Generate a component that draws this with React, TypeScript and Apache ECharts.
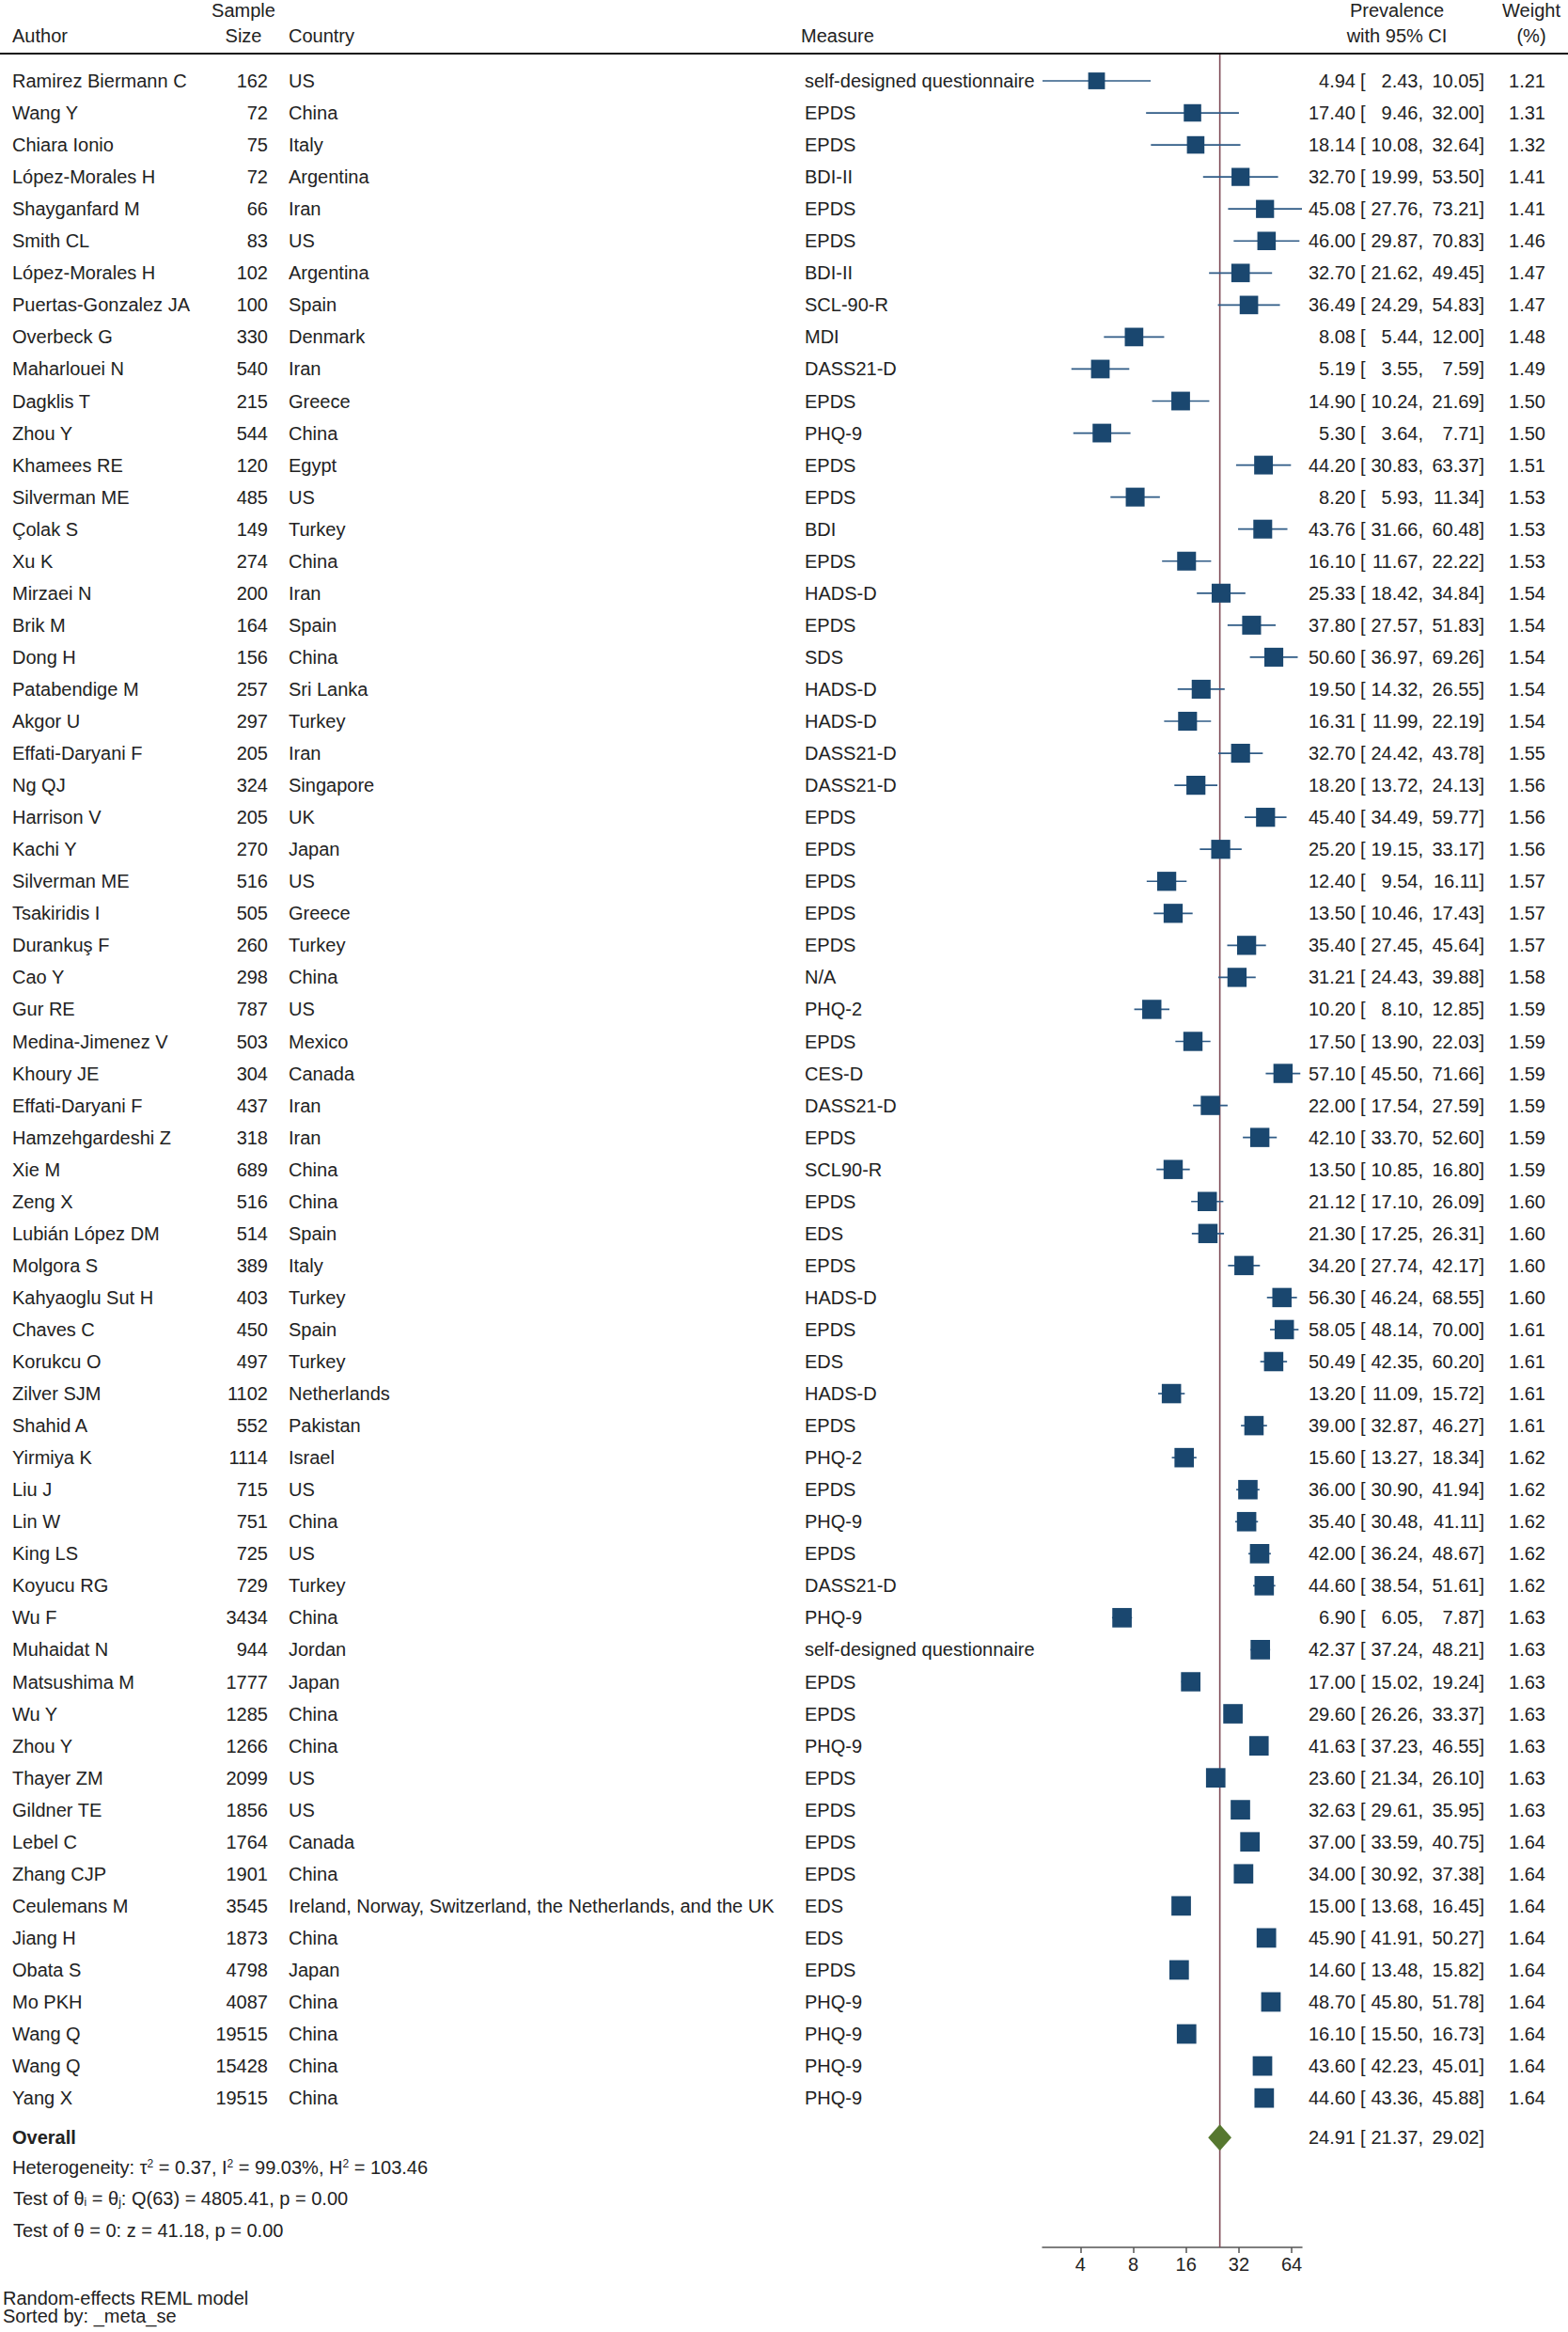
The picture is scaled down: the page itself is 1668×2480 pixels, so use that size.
import React, { useEffect, useRef } from "react";
import * as echarts from "echarts";

// ---------------- data ----------------
const authors = [
  "Ramirez Biermann C", "Wang Y", "Chiara Ionio", "López-Morales H", "Shayganfard M", "Smith CL",
  "López-Morales H", "Puertas-Gonzalez JA", "Overbeck G", "Maharlouei N", "Dagklis T", "Zhou Y",
  "Khamees RE", "Silverman ME", "Çolak S", "Xu K", "Mirzaei N", "Brik M", "Dong H", "Patabendige M",
  "Akgor U", "Effati-Daryani F", "Ng QJ", "Harrison V", "Kachi Y", "Silverman ME", "Tsakiridis I",
  "Durankuş F", "Cao Y", "Gur RE", "Medina-Jimenez V", "Khoury JE", "Effati-Daryani F",
  "Hamzehgardeshi Z", "Xie M", "Zeng X", "Lubián López DM", "Molgora S", "Kahyaoglu Sut H",
  "Chaves C", "Korukcu O", "Zilver SJM", "Shahid A", "Yirmiya K", "Liu J", "Lin W", "King LS",
  "Koyucu RG", "Wu F", "Muhaidat N", "Matsushima M", "Wu Y", "Zhou Y", "Thayer ZM", "Gildner TE",
  "Lebel C", "Zhang CJP", "Ceulemans M", "Jiang H", "Obata S", "Mo PKH", "Wang Q", "Wang Q", "Yang X",
];

const sampleSizes = [
  162, 72, 75, 72, 66, 83, 102, 100, 330, 540, 215, 544, 120, 485, 149, 274, 200, 164, 156, 257,
  297, 205, 324, 205, 270, 516, 505, 260, 298, 787, 503, 304, 437, 318, 689, 516, 514, 389, 403,
  450, 497, 1102, 552, 1114, 715, 751, 725, 729, 3434, 944, 1777, 1285, 1266, 2099, 1856, 1764,
  1901, 3545, 1873, 4798, 4087, 19515, 15428, 19515,
];

const countries = [
  "US", "China", "Italy", "Argentina", "Iran", "US", "Argentina", "Spain", "Denmark", "Iran",
  "Greece", "China", "Egypt", "US", "Turkey", "China", "Iran", "Spain", "China", "Sri Lanka",
  "Turkey", "Iran", "Singapore", "UK", "Japan", "US", "Greece", "Turkey", "China", "US", "Mexico",
  "Canada", "Iran", "Iran", "China", "China", "Spain", "Italy", "Turkey", "Spain", "Turkey",
  "Netherlands", "Pakistan", "Israel", "US", "China", "US", "Turkey", "China", "Jordan", "Japan",
  "China", "China", "US", "US", "Canada", "China",
  "Ireland, Norway, Switzerland, the Netherlands, and the UK",
  "China", "Japan", "China", "China", "China", "China",
];

const measures = [
  "self-designed questionnaire", "EPDS", "EPDS", "BDI-II", "EPDS", "EPDS", "BDI-II", "SCL-90-R",
  "MDI", "DASS21-D", "EPDS", "PHQ-9", "EPDS", "EPDS", "BDI", "EPDS", "HADS-D", "EPDS", "SDS",
  "HADS-D", "HADS-D", "DASS21-D", "DASS21-D", "EPDS", "EPDS", "EPDS", "EPDS", "EPDS", "N/A",
  "PHQ-2", "EPDS", "CES-D", "DASS21-D", "EPDS", "SCL90-R", "EPDS", "EDS", "EPDS", "HADS-D", "EPDS",
  "EDS", "HADS-D", "EPDS", "PHQ-2", "EPDS", "PHQ-9", "EPDS", "DASS21-D", "PHQ-9",
  "self-designed questionnaire", "EPDS", "EPDS", "PHQ-9", "EPDS", "EPDS", "EPDS", "EPDS", "EDS",
  "EDS", "EPDS", "PHQ-9", "PHQ-9", "PHQ-9", "PHQ-9",
];

const prevalence = [
  4.94, 17.4, 18.14, 32.7, 45.08, 46.0, 32.7, 36.49, 8.08, 5.19, 14.9, 5.3, 44.2, 8.2, 43.76, 16.1,
  25.33, 37.8, 50.6, 19.5, 16.31, 32.7, 18.2, 45.4, 25.2, 12.4, 13.5, 35.4, 31.21, 10.2, 17.5, 57.1,
  22.0, 42.1, 13.5, 21.12, 21.3, 34.2, 56.3, 58.05, 50.49, 13.2, 39.0, 15.6, 36.0, 35.4, 42.0, 44.6,
  6.9, 42.37, 17.0, 29.6, 41.63, 23.6, 32.63, 37.0, 34.0, 15.0, 45.9, 14.6, 48.7, 16.1, 43.6, 44.6,
];

const ciLower = [
  2.43, 9.46, 10.08, 19.99, 27.76, 29.87, 21.62, 24.29, 5.44, 3.55, 10.24, 3.64, 30.83, 5.93, 31.66,
  11.67, 18.42, 27.57, 36.97, 14.32, 11.99, 24.42, 13.72, 34.49, 19.15, 9.54, 10.46, 27.45, 24.43,
  8.1, 13.9, 45.5, 17.54, 33.7, 10.85, 17.1, 17.25, 27.74, 46.24, 48.14, 42.35, 11.09, 32.87, 13.27,
  30.9, 30.48, 36.24, 38.54, 6.05, 37.24, 15.02, 26.26, 37.23, 21.34, 29.61, 33.59, 30.92, 13.68,
  41.91, 13.48, 45.8, 15.5, 42.23, 43.36,
];

const ciUpper = [
  10.05, 32.0, 32.64, 53.5, 73.21, 70.83, 49.45, 54.83, 12.0, 7.59, 21.69, 7.71, 63.37, 11.34, 60.48,
  22.22, 34.84, 51.83, 69.26, 26.55, 22.19, 43.78, 24.13, 59.77, 33.17, 16.11, 17.43, 45.64, 39.88,
  12.85, 22.03, 71.66, 27.59, 52.6, 16.8, 26.09, 26.31, 42.17, 68.55, 70.0, 60.2, 15.72, 46.27, 18.34,
  41.94, 41.11, 48.67, 51.61, 7.87, 48.21, 19.24, 33.37, 46.55, 26.1, 35.95, 40.75, 37.38, 16.45,
  50.27, 15.82, 51.78, 16.73, 45.01, 45.88,
];

const weights = [
  1.21, 1.31, 1.32, 1.41, 1.41, 1.46, 1.47, 1.47, 1.48, 1.49, 1.5, 1.5, 1.51, 1.53, 1.53, 1.53, 1.54,
  1.54, 1.54, 1.54, 1.54, 1.55, 1.56, 1.56, 1.56, 1.57, 1.57, 1.57, 1.58, 1.59, 1.59, 1.59, 1.59,
  1.59, 1.59, 1.6, 1.6, 1.6, 1.6, 1.61, 1.61, 1.61, 1.61, 1.62, 1.62, 1.62, 1.62, 1.62, 1.63, 1.63,
  1.63, 1.63, 1.63, 1.63, 1.63, 1.64, 1.64, 1.64, 1.64, 1.64, 1.64, 1.64, 1.64, 1.64,
];

// overall estimate, lower, upper
const overallEstimate = [24.91, 21.37, 29.02];
const xTickValues = [4, 8, 16, 32, 64];
const xRange = [2.43, 73.21];

const heterogeneityText = "Heterogeneity: τ{sup|2} = 0.37, I{sup|2} = 99.03%, H{sup|2} = 103.46";
const testHomogeneityText = "Test of θ{sub|i} = θ{sub|j}: Q(63) = 4805.41, p = 0.00";
const testZeroText = "Test of θ = 0: z = 41.18, p = 0.00";
const footnotes = ["Random-effects REML model", "Sorted by: _meta_se"];

// ---------------- styling / layout ----------------
const FF = "'Liberation Sans', Arial, Helvetica, sans-serif";
const FS = 20;
const TC = "#222222";
const SQ = "#1a476f";
const CI = "#2f5b86";
const DIA = "#56782f";
const REF = "#7f4b57";

const AUTHOR_X = 13;
const SIZE_RX = 285;
const SIZE_CX = 259;
const COUNTRY_X = 307;
const MEASURE_X = 856;
const EST_RX = 1442;
const BRACKET_X = 1447;
const LO_RX = 1514;
const HI_RX = 1579;
const PREV_CX = 1486;
const WEIGHT_RX = 1644;
const WEIGHT_CX = 1629;

const ROW_H = 34.05;
const GRID_TOP = 86 - ROW_H;
const OVERALL_ROW = 65.24;
const Y_MAX = (2390 - GRID_TOP) / ROW_H;

function txt(x: number, y: number, text: string, align: string = "left", extra: any = {}) {
  return {
    type: "text",
    x,
    y,
    style: {
      text,
      fontSize: FS,
      fontFamily: FF,
      fill: TC,
      align,
      verticalAlign: "middle",
      textAlign: align,
      textVerticalAlign: "middle",
      ...extra,
    },
  };
}

function buildOption() {
  const rowsData = authors.map((_, i) => [i + 1, prevalence[i], ciLower[i], ciUpper[i], weights[i]]);

  const studiesRender = (params: any, api: any) => {
    const r = api.value(0);
    const est = api.value(1);
    const lo = api.value(2);
    const hi = api.value(3);
    const w = api.value(4);
    const pl = api.coord([lo, r]);
    const ph = api.coord([hi, r]);
    const pe = api.coord([est, r]);
    const side = 16.2 * Math.sqrt(w);
    return {
      type: "group",
      children: [
        {
          type: "line",
          shape: { x1: pl[0], y1: pl[1], x2: ph[0], y2: ph[1] },
          style: { stroke: CI, lineWidth: 1.7 },
        },
        {
          type: "rect",
          shape: { x: pe[0] - side / 2, y: pe[1] - side / 2, width: side, height: side },
          style: { fill: SQ },
        },
      ],
    };
  };

  const diamondRender = (params: any, api: any) => {
    const r = api.value(0);
    const c = api.coord([api.value(1), r]);
    const l = api.coord([api.value(2), r]);
    const h = api.coord([api.value(3), r]);
    return {
      type: "polygon",
      shape: {
        points: [
          [l[0], c[1]],
          [c[0], c[1] - 14],
          [h[0], c[1]],
          [c[0], c[1] + 14],
        ],
      },
      style: { fill: DIA },
    };
  };

  const tableRender = (params: any, api: any) => {
    const i = params.dataIndex;
    const y = api.coord([10, api.value(0)])[1];
    return {
      type: "group",
      children: [
        txt(AUTHOR_X, y, authors[i]),
        txt(SIZE_RX, y, String(sampleSizes[i]), "right"),
        txt(COUNTRY_X, y, countries[i]),
        txt(MEASURE_X, y, measures[i]),
        txt(EST_RX, y, prevalence[i].toFixed(2), "right"),
        txt(BRACKET_X, y, "["),
        txt(LO_RX, y, ciLower[i].toFixed(2) + ",", "right"),
        txt(HI_RX, y, ciUpper[i].toFixed(2) + "]", "right"),
        txt(WEIGHT_RX, y, weights[i].toFixed(2), "right"),
      ],
    };
  };

  const overallTextRender = (params: any, api: any) => {
    const y = api.coord([10, api.value(0)])[1];
    return {
      type: "group",
      children: [
        txt(AUTHOR_X, y, "Overall", "left", { fontWeight: "bold" }),
        txt(EST_RX, y, overallEstimate[0].toFixed(2), "right"),
        txt(BRACKET_X, y, "["),
        txt(LO_RX, y, overallEstimate[1].toFixed(2) + ",", "right"),
        txt(HI_RX, y, overallEstimate[2].toFixed(2) + "]", "right"),
      ],
    };
  };

  const supSub = {
    sup: { fontSize: 12, fontFamily: FF, fill: TC, verticalAlign: "top" },
    sub: { fontSize: 12, fontFamily: FF, fill: TC, verticalAlign: "bottom" },
  };

  const graphic = [
    txt(SIZE_CX, 11, "Sample", "center"),
    txt(AUTHOR_X, 38, "Author"),
    txt(SIZE_CX, 38, "Size", "center"),
    txt(COUNTRY_X, 38, "Country"),
    txt(852, 38, "Measure"),
    txt(PREV_CX, 11, "Prevalence", "center"),
    txt(PREV_CX, 38, "with 95% CI", "center"),
    txt(WEIGHT_CX, 11, "Weight", "center"),
    txt(WEIGHT_CX, 38, "(%)", "center"),
    {
      type: "line",
      shape: { x1: 0, y1: 57, x2: 1668, y2: 57 },
      style: { stroke: "#111111", lineWidth: 2 },
    },
    txt(AUTHOR_X, 2305, heterogeneityText, "left", { rich: supSub }),
    txt(14, 2338, testHomogeneityText, "left", { rich: supSub }),
    txt(14, 2372, testZeroText),
    txt(3, 2444, footnotes[0]),
    txt(3, 2463, footnotes[1]),
  ];

  return {
    animation: false,
    grid: {
      left: 1109,
      top: GRID_TOP,
      width: 276,
      height: Y_MAX * ROW_H,
      containLabel: false,
      outerBoundsMode: "none",
    },
    xAxis: {
      type: "log",
      logBase: 2,
      min: xRange[0],
      max: xRange[1],
      position: "bottom",
      axisLine: { show: true, onZero: false, lineStyle: { color: "#555555", width: 1.5 } },
      axisTick: {
        show: true,
        customValues: xTickValues,
        length: 6,
        lineStyle: { color: "#555555", width: 1.5 },
      },
      axisLabel: {
        customValues: xTickValues,
        fontSize: FS,
        fontFamily: FF,
        color: TC,
        margin: 8,
        formatter: (v: number) => String(Math.round(v)),
      },
      splitLine: { show: false },
      minorTick: { show: false },
    },
    yAxis: {
      type: "value",
      min: 0,
      max: Y_MAX,
      inverse: true,
      show: false,
      splitLine: { show: false },
    },
    series: [
      {
        type: "line",
        name: "reference",
        data: [
          [overallEstimate[0], (58 - GRID_TOP) / ROW_H],
          [overallEstimate[0], Y_MAX],
        ],
        symbol: "none",
        lineStyle: { color: REF, width: 1.6 },
        silent: true,
        z: 1,
      },
      {
        type: "custom",
        name: "studies",
        data: rowsData,
        encode: { x: [1, 2, 3], y: 0 },
        renderItem: studiesRender,
        clip: false,
        z: 3,
      },
      {
        type: "custom",
        name: "overall",
        data: [[OVERALL_ROW, overallEstimate[0], overallEstimate[1], overallEstimate[2]]],
        encode: { x: [1, 2, 3], y: 0 },
        renderItem: diamondRender,
        clip: false,
        z: 3,
      },
      {
        type: "custom",
        name: "table",
        data: rowsData,
        encode: { x: 1, y: 0 },
        renderItem: tableRender,
        clip: false,
        z: 4,
      },
      {
        type: "custom",
        name: "overallText",
        data: [[OVERALL_ROW, overallEstimate[0]]],
        encode: { x: 1, y: 0 },
        renderItem: overallTextRender,
        clip: false,
        z: 4,
      },
    ],
    graphic,
  };
}

export default function App() {
  const ref = useRef<HTMLDivElement>(null);
  useEffect(() => {
    document.body.style.margin = "0";
    if (!ref.current) return;
    const chart = echarts.init(ref.current, null, { renderer: "svg" });
    chart.setOption(buildOption() as any);
    return () => {
      chart.dispose();
    };
  }, []);
  return <div ref={ref} style={{ width: 1668, height: 2480, background: "#ffffff" }} />;
}
